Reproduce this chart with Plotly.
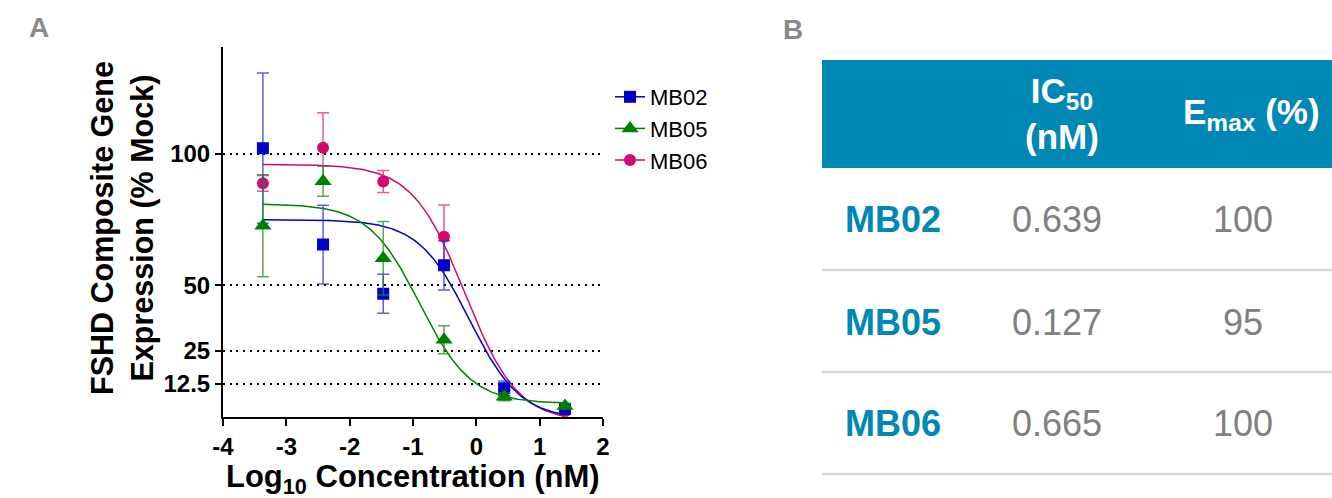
import numpy as np
import plotly.graph_objects as go

# ---------------- data ----------------
log_conc = [-3.37, -2.42, -1.47, -0.51, 0.44, 1.40]

mb02_mean = [102.2, 65.5, 46.8, 57.6, 10.8, 2.9]
mb02_err = [28.6, 15.0, 7.4, 9.4, 2.8, 1.0]
mb05_mean = [72.7, 89.6, 60.3, 29.3, 7.6, 4.1]
mb05_err = [19.4, 5.7, 14.0, 5.3, 1.5, 1.0]
mb06_mean = [88.8, 102.4, 89.5, 68.5, 10.0, 2.0]
mb06_err = [3.0, 13.3, 4.2, 12.1, 2.0, 1.0]

# 4-parameter logistic fit parameters: top, bottom, logIC50, hill
fit_mb02 = [75.0, -1.0, -0.11, 1.08]
fit_mb05 = [81.0, 5.0, -0.894, 1.07]
fit_mb06 = [96.0, -2.0, -0.18, 1.05]

y_tick_vals = [12.5, 25, 50, 100]
y_tick_text = ["12.5", "25", "50", "100"]
x_tick_vals = [-4, -3, -2, -1, 0, 1, 2]
x_tick_text = ["-4", "-3", "-2", "-1", "0", "1", "2"]

table_names = ["MB02", "MB05", "MB06"]
table_ic50 = ["0.639", "0.127", "0.665"]
table_emax = ["100", "95", "100"]

# ---------------- styling ----------------
W, H = 1332, 498
FONT = "Arial, Liberation Sans, Helvetica, sans-serif"
BLUE, GREEN, PINK = "#0000C8", "#008000", "#D20A6E"
BLUE_E, GREEN_E, PINK_E = "rgba(40,40,210,0.75)", "rgba(30,140,30,0.75)", "rgba(215,40,120,0.75)"
TEAL = "#0087B4"


def px(x):
    return x / W


def py(y):
    return 1 - y / H


def logistic(params, x):
    top, bottom, c, h = params
    x = np.asarray(x)
    return bottom + (top - bottom) / (1 + 10 ** ((x - c) * h))


def gapped(vals):
    out = []
    for v in vals:
        out += [v, None]
    return out


fig = go.Figure()

series = [
    ("MB06", mb06_mean, mb06_err, fit_mb06, PINK, PINK_E, "circle", 12, 3),
    ("MB02", mb02_mean, mb02_err, fit_mb02, BLUE, BLUE_E, "square", 12, 1),
    ("MB05", mb05_mean, mb05_err, fit_mb05, GREEN, GREEN_E, "triangle-up", 15, 2),
]

for name, mean, err, fit, col, ecol, sym, msize, rank in series:
    xc = np.linspace(log_conc[0], log_conc[-1], 300)
    fig.add_trace(go.Scatter(
        x=xc, y=logistic(fit, xc), mode="lines",
        line=dict(color=col, width=1.5), showlegend=False, hoverinfo="skip"))
    fig.add_trace(go.Scatter(
        x=gapped(log_conc), y=gapped(mean), name=name, mode="lines+markers",
        connectgaps=False, legendrank=rank,
        line=dict(color=col, width=1.5),
        marker=dict(symbol=sym, size=msize, color=col),
        error_y=dict(type="data", array=gapped(err), color=ecol, thickness=1.5, width=6)))

fig.update_layout(
    width=W, height=H, margin=dict(l=0, r=0, t=0, b=0),
    paper_bgcolor="white", plot_bgcolor="white",
    font=dict(family=FONT, color="black"),
    xaxis=dict(domain=[px(223), px(603)], range=[-4, 2], tickvals=x_tick_vals,
               ticktext=x_tick_text,
               ticks="outside", ticklen=7, tickwidth=2, tickcolor="black",
               showline=True, linewidth=2, linecolor="black", showgrid=False,
               zeroline=False, tickfont=dict(size=24, family=FONT, weight="bold"),
               automargin=False),
    yaxis=dict(domain=[py(416.7), py(47)], range=[0, 140.7], tickvals=y_tick_vals,
               ticktext=y_tick_text, ticks="outside", ticklen=6, tickwidth=2,
               tickcolor="black", showline=True, linewidth=2, linecolor="black",
               showgrid=True, gridcolor="black", gridwidth=2, griddash="2px,4.7px",
               zeroline=False, tickfont=dict(size=24, family=FONT, weight="bold"),
               automargin=False),
    legend=dict(x=px(610), y=py(76), xanchor="left", yanchor="top",
                font=dict(size=22, family=FONT), bgcolor="rgba(0,0,0,0)",
                itemwidth=30, tracegroupgap=0),
)

ann = []
# axis titles
ann.append(dict(x=px(413), y=py(479), xref="paper", yref="paper",
                text="<b>Log<sub>10</sub> Concentration (nM)</b>", showarrow=False,
                font=dict(size=31, family=FONT, color="black"), xanchor="center", yanchor="middle"))
ann.append(dict(x=px(123), y=py(228), xref="paper", yref="paper", textangle=-90,
                text="<b>FSHD Composite Gene<br>Expression (% Mock)</b>", showarrow=False,
                font=dict(size=30.5, family=FONT, color="black"), xanchor="center", yanchor="middle"))
# panel letters
ann.append(dict(x=px(39), y=py(27), xref="paper", yref="paper", text="<b>A</b>", showarrow=False,
                font=dict(size=28, family=FONT, color="#8A8A8A"), xanchor="center", yanchor="middle"))
ann.append(dict(x=px(793), y=py(29), xref="paper", yref="paper", text="<b>B</b>", showarrow=False,
                font=dict(size=28, family=FONT, color="#8A8A8A"), xanchor="center", yanchor="middle"))

# table
shapes = [dict(type="rect", xref="paper", yref="paper", x0=px(822), x1=px(1332),
               y0=py(168), y1=py(60), fillcolor=TEAL, line=dict(width=0), layer="below")]
ann.append(dict(x=px(1062), y=py(114), xref="paper", yref="paper",
                text="<b>IC<sub>50</sub><br>(nM)</b>", showarrow=False,
                font=dict(size=35, family=FONT, color="white"), xanchor="center", yanchor="middle"))
ann.append(dict(x=px(1251), y=py(114), xref="paper", yref="paper",
                text="<b>E<sub>max</sub> (%)</b>", showarrow=False,
                font=dict(size=35, family=FONT, color="white"), xanchor="center", yanchor="middle"))

row_centers = [220, 322, 423]
row_lines = [270, 372, 474]
for i, (n, ic, em) in enumerate(zip(table_names, table_ic50, table_emax)):
    yc = row_centers[i]
    ann.append(dict(x=px(843), y=py(yc), xref="paper", yref="paper", text="<b>" + n + "</b>",
                    showarrow=False, font=dict(size=36, family=FONT, color=TEAL),
                    xanchor="left", yanchor="middle"))
    ann.append(dict(x=px(1057), y=py(yc), xref="paper", yref="paper", text=ic,
                    showarrow=False, font=dict(size=36, family=FONT, color="#808080"),
                    xanchor="center", yanchor="middle"))
    ann.append(dict(x=px(1243), y=py(yc), xref="paper", yref="paper", text=em,
                    showarrow=False, font=dict(size=36, family=FONT, color="#808080"),
                    xanchor="center", yanchor="middle"))
    shapes.append(dict(type="line", xref="paper", yref="paper", x0=px(822), x1=px(1332),
                       y0=py(row_lines[i]), y1=py(row_lines[i]),
                       line=dict(color="#D9D9D9", width=2.5)))

fig.update_layout(annotations=ann, shapes=shapes)
fig.write_html("out.html", config={"displayModeBar": False},
               post_script="document.body.style.margin='0';document.body.style.overflow='hidden';")
